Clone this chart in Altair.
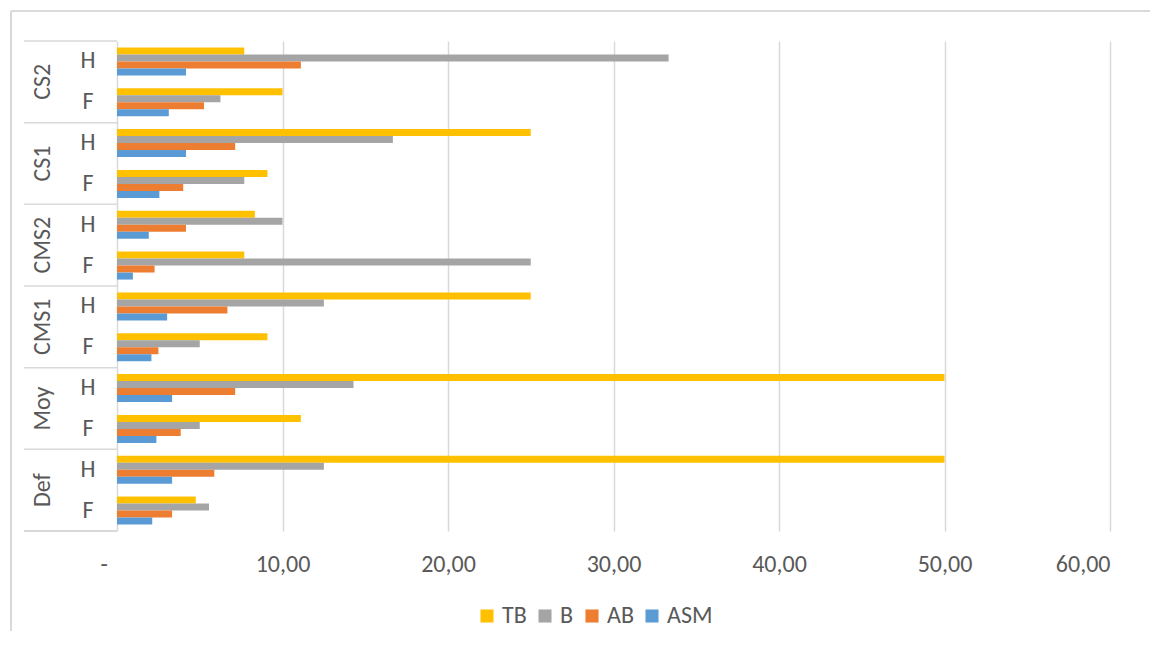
import altair as alt
import pandas as pd

groups = ["Def", "Moy", "CMS1", "CMS2", "CS1", "CS2"]
subs = ["F", "H"]
series = ["TB", "B", "AB", "ASM"]
colors = ["#FFC000", "#A5A5A5", "#ED7D31", "#5B9BD5"]

# order: Def F, Def H, Moy F, Moy H, CMS1 F, CMS1 H, CMS2 F, CMS2 H, CS1 F, CS1 H, CS2 F, CS2 H
TB = [4.76, 50.00, 11.11, 50.00, 9.09, 25.00, 7.69, 8.33, 9.09, 25.00, 10.00, 7.69]
B = [5.56, 12.50, 5.00, 14.29, 5.00, 12.50, 25.00, 10.00, 7.69, 16.67, 6.25, 33.33]
AB = [3.33, 5.88, 3.85, 7.14, 2.50, 6.67, 2.27, 4.17, 4.00, 7.14, 5.26, 11.11]
ASM = [2.13, 3.33, 2.38, 3.33, 2.08, 3.03, 0.96, 1.92, 2.56, 4.17, 3.13, 4.17]
x_ticks = [0, 10, 20, 30, 40, 50, 60]

values = {"TB": TB, "B": B, "AB": AB, "ASM": ASM}
rows = [(g, s) for g in groups for s in subs]
row_keys = [f"{g}|{s}" for g, s in rows]
row_order = list(reversed(row_keys))

recs = []
for name in series:
    for (g, s), v in zip(rows, values[name]):
        recs.append({"row": f"{g}|{s}", "series": name, "value": v})
df = pd.DataFrame(recs)

lab_df = pd.DataFrame([{"row": f"{g}|{s}", "grp": g, "sub": s} for g, s in rows])
grp_df = lab_df[lab_df["sub"] == "H"]

FONT = "Carlito, Calibri, Lato, sans-serif"
FS = 24
TXT = "#595959"
LINE = "#D9D9D9"

yscale = alt.Scale(domain=row_order, paddingInner=0, paddingOuter=0)

bars = alt.Chart(df).mark_bar().encode(
    y=alt.Y("row:N", scale=yscale, axis=None),
    yOffset=alt.YOffset("series:N", scale=alt.Scale(domain=series, paddingInner=0, paddingOuter=0.92)),
    x=alt.X("value:Q", scale=alt.Scale(domain=[0, 60], nice=False),
            axis=alt.Axis(values=x_ticks, title=None, grid=True, gridColor=LINE, gridWidth=1.5,
                          ticks=False, domain=False, labelFont=FONT, labelFontSize=FS,
                          labelColor=TXT, labelPadding=21,
                          labelExpr="datum.value == 0 ? '-' : replace(format(datum.value, '.2f'), '.', ',')",
                          labelOffset={"condition": {"test": "datum.value === 0", "value": -17}, "value": 0})),
    color=alt.Color("series:N", scale=alt.Scale(domain=series, range=colors),
                    legend=alt.Legend(title=None, orient="none", direction="horizontal",
                                      legendX=358, legendY=563, symbolType="square", symbolSize=170,
                                      symbolStrokeWidth=0, labelFont=FONT, labelFontSize=FS,
                                      labelColor=TXT, columnPadding=6, labelOffset=3, padding=0)),
)

sub_text = alt.Chart(lab_df).mark_text(font=FONT, fontSize=FS, color=TXT, align="center",
                                       baseline="middle").encode(
    y=alt.Y("row:N", scale=yscale, axis=None),
    x=alt.value(-29),
    text="sub:N",
)

grp_text = alt.Chart(grp_df).mark_text(font=FONT, fontSize=FS, color=TXT, align="center",
                                       baseline="middle", angle=270).encode(
    y=alt.Y("row:N", scale=yscale, axis=None, bandPosition=1),
    x=alt.value(-74),
    text="grp:N",
)

sep = alt.Chart(grp_df).mark_rule(color=LINE, strokeWidth=1.5).encode(
    y=alt.Y("row:N", scale=yscale, axis=None, bandPosition=0),
    x=alt.value(-93),
    x2=alt.value(0),
)
sep_bottom = alt.Chart(grp_df).mark_rule(color=LINE, strokeWidth=1.5).encode(
    y=alt.value(490), x=alt.value(-93), x2=alt.value(0),
)

border_v = alt.Chart(grp_df).mark_rule(color=LINE, strokeWidth=1.2).encode(
    x=alt.value(-106), y=alt.value(-30), y2=alt.value(600),
)
border_h = alt.Chart(grp_df).mark_rule(color=LINE, strokeWidth=1.2).encode(
    y=alt.value(-30), x=alt.value(-106), x2=alt.value(1100),
)

chart = alt.layer(border_v, border_h, bars, sep, sep_bottom, sub_text, grp_text).properties(
    width=993, height=490,
    autosize=alt.AutoSizeParams(type="none"),
    padding={"left": 109, "top": 33, "right": 40, "bottom": 100},
).configure_view(strokeWidth=0)

chart.save("out.html", embed_options={"renderer": "svg", "actions": False})
